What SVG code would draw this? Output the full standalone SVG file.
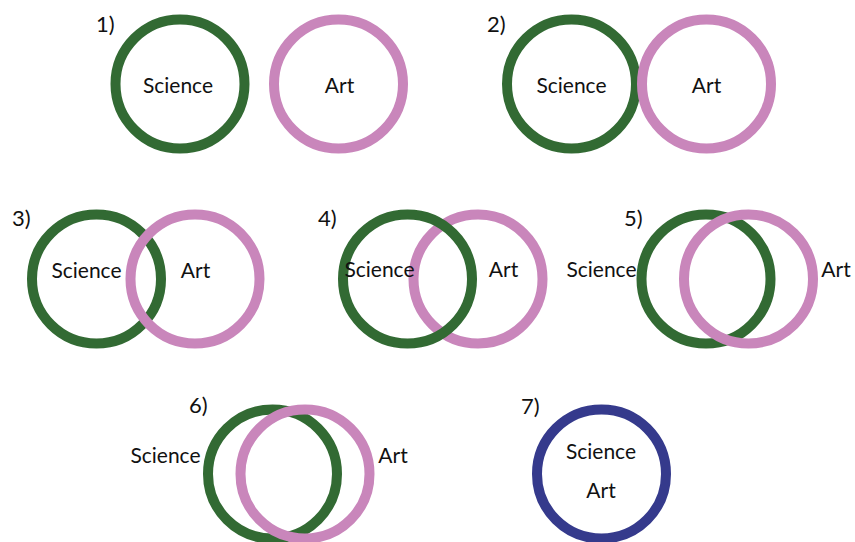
<svg xmlns="http://www.w3.org/2000/svg" width="855" height="542" viewBox="0 0 855 542">
<style>
.c{fill:none;stroke-width:10}
.g{stroke:#326a33}
.p{stroke:#c986bb}
.b{stroke:#353a8c}
text{font-family:Lato,"Liberation Sans",sans-serif;font-size:21px;fill:#111;text-anchor:middle}
.n{font-size:22px;text-anchor:start}
</style>
<rect width="855" height="542" fill="#fff"/>
<g id="panel1">
<text class="n" x="96" y="32">1)</text>
<g id="p1-science"><circle class="c g" cx="180" cy="84" r="64.5"/><text x="178" y="93">Science</text></g>
<g id="p1-art"><circle class="c p" cx="338.5" cy="84" r="64.5"/><text x="339.5" y="93">Art</text></g>
</g>
<g id="panel2">
<text class="n" x="487" y="32">2)</text>
<g id="p2-science"><circle class="c g" cx="571.5" cy="84" r="64.5"/><text x="571.5" y="93">Science</text></g>
<g id="p2-art"><circle class="c p" cx="706.5" cy="84" r="64.5"/><text x="706.5" y="93">Art</text></g>
</g>
<g id="panel3">
<text class="n" x="12" y="226">3)</text>
<g id="p3-science"><circle class="c g" cx="96.5" cy="279" r="64.5"/><text x="86.5" y="278">Science</text></g>
<g id="p3-art"><circle class="c p" cx="195" cy="279" r="64.5"/><text x="195.5" y="278">Art</text></g>
</g>
<g id="panel4">
<text class="n" x="318" y="226">4)</text>
<g id="p4-art"><circle class="c p" cx="478" cy="279" r="64.5"/><text x="503.5" y="277">Art</text></g>
<g id="p4-science"><circle class="c g" cx="407.5" cy="279" r="64.5"/><text x="379.5" y="277">Science</text></g>
</g>
<g id="panel5">
<text class="n" x="624" y="226">5)</text>
<g id="p5-science"><circle class="c g" cx="706" cy="279" r="64.5"/><text x="601.5" y="277">Science</text></g>
<g id="p5-art"><circle class="c p" cx="748.5" cy="279" r="64.5"/><text x="836" y="277">Art</text></g>
</g>
<g id="panel6">
<text class="n" x="189" y="413">6)</text>
<g id="p6-science"><circle class="c g" cx="272.5" cy="474" r="64.5"/><text x="165.5" y="463">Science</text></g>
<g id="p6-art"><circle class="c p" cx="305" cy="474" r="64.5"/><text x="393" y="463">Art</text></g>
</g>
<g id="panel7">
<text class="n" x="521" y="414">7)</text>
<g id="p7-both"><circle class="c b" cx="601.5" cy="474" r="64.5"/><text x="601" y="459">Science</text><text x="601" y="498">Art</text></g>
</g>
<g id="connectors"/>
</svg>
